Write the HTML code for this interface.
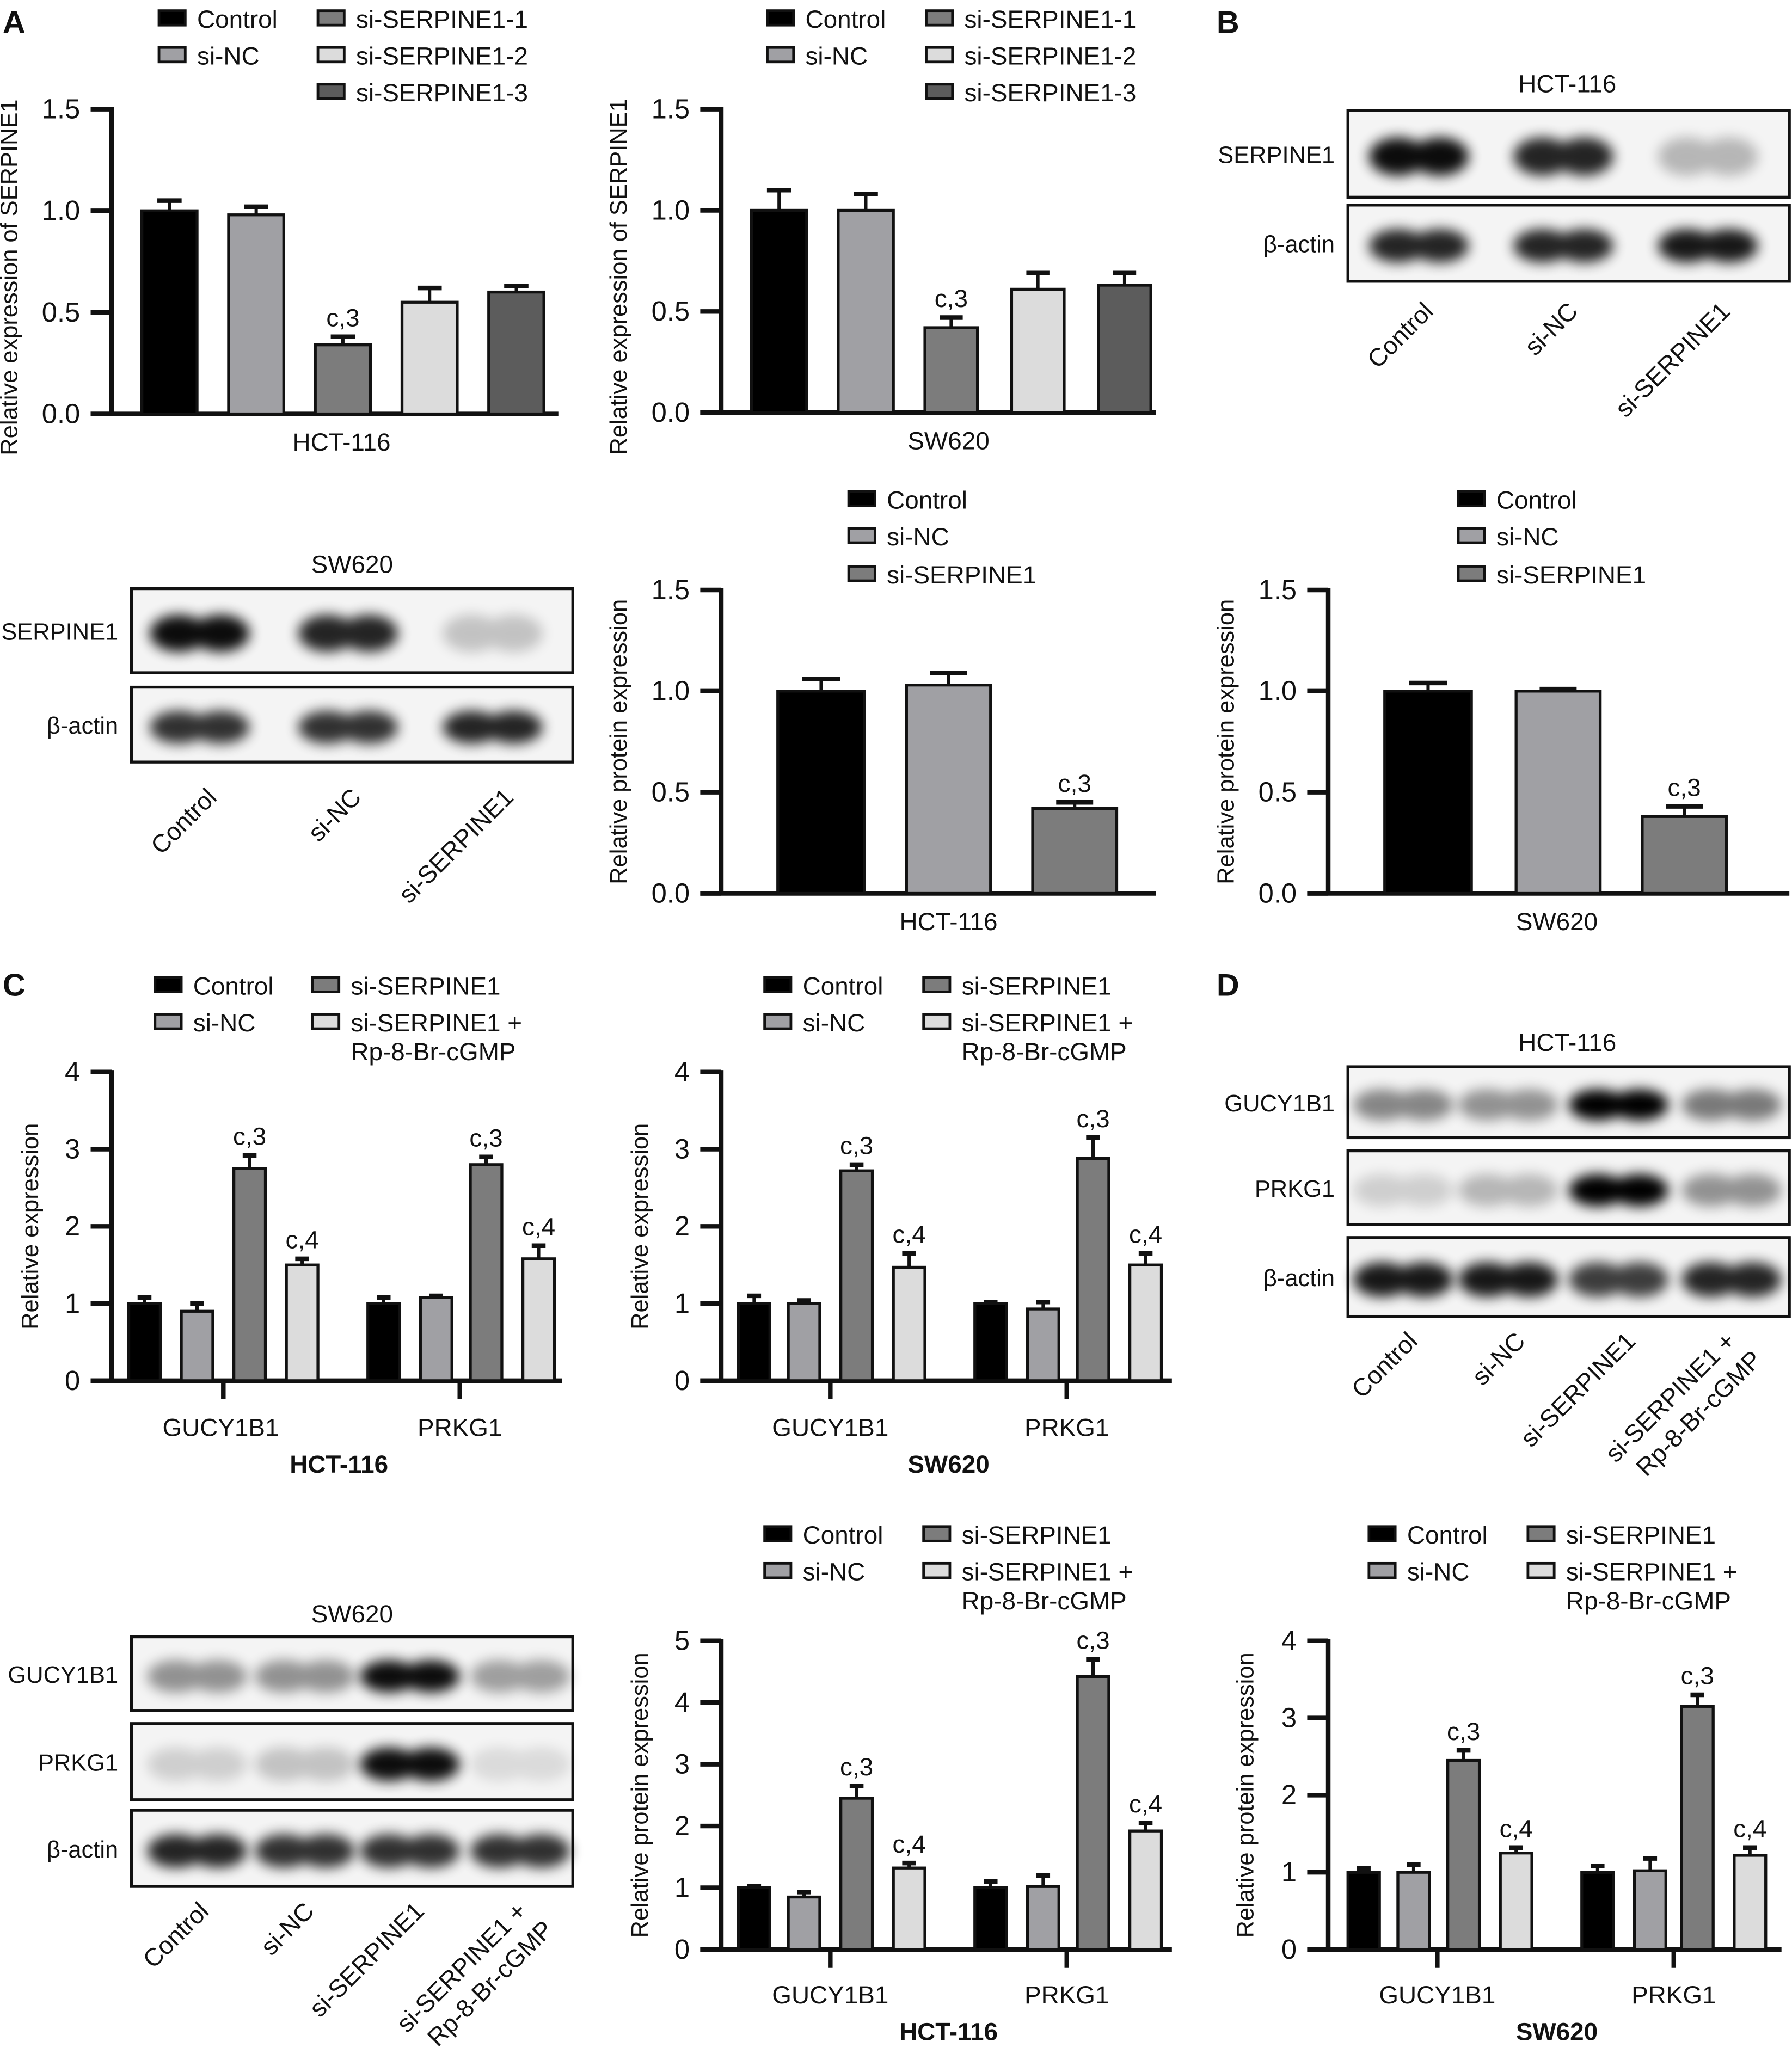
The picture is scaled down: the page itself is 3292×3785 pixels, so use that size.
<!DOCTYPE html>
<html><head><meta charset="utf-8"><style>html,body{margin:0;padding:0;background:#fff}svg{display:block}text{font-family:"Liberation Sans","DejaVu Sans",sans-serif;fill:#111}</style></head>
<body>
<svg id="s" xmlns="http://www.w3.org/2000/svg" width="3292" height="3785" viewBox="0 0 1364 1568">
<defs><filter id="bl" x="-50%" y="-100%" width="200%" height="300%"><feGaussianBlur stdDeviation="5"/></filter></defs>
<g id="g"></g>
</svg>
<script>
const g=document.getElementById('g');let h='';
const C=['#000','#a0a0a4','#7c7c7c','#dcdcdc','#5c5c5c'];
function T(x,y,t,o={}){h+=`<text x="${x}" y="${y}" font-size="${o.fs||19}" text-anchor="${o.a||'start'}" ${o.b?'font-weight="bold"':''} ${o.r!==undefined?`transform="rotate(${o.r} ${x} ${y})"`:''}>${t}</text>`;}
function R(x,y,w,hh,f,sw=2.2){h+=`<rect x="${x}" y="${y}" width="${w}" height="${hh}" fill="${f}" stroke="#111" stroke-width="${sw}"/>`;}
function L(x1,y1,x2,y2,w=3){h+=`<line x1="${x1}" y1="${y1}" x2="${x2}" y2="${y2}" stroke="#111" stroke-width="${w}"/>`;}
function chart(o){let {ax,y0,ytop,max,ticks,xend}=o;ax+=16;const sc=(y0-ytop)/max;
 L(ax,ytop-1.5,ax,y0+1.5,3.5);L(ax-16,y0,xend,y0,3.5);
 ticks.forEach(v=>{const y=y0-v*sc;L(ax-16,y,ax,y,3.5);T(ax-24,y+7,o.dec?v.toFixed(1):v,{a:'end',fs:21});});
 (o.xt||[]).forEach(x=>L(x,y0,x,y0+14,3.5));
 o.bars.forEach(b=>{const yt=y0-b.v*sc,ye=y0-b.e*sc,cx=b.x+b.w/2;
  L(cx,ye,cx,yt,2.5);L(cx-b.w*0.22,ye,cx+b.w*0.22,ye,3.5);
  R(b.x,yt,b.w,y0-yt,C[b.c]);
  if(b.l)T(cx,ye-8,b.l,{a:'middle'});});
 T(o.ylx-4,(y0+ytop)/2+o.yoff,o.yl,{a:'middle',r:-90,fs:18});}
function leg(items){items.forEach(i=>{R(i[0],i[1]-13,20,11,C[i[2]],2);T(i[0]+29,i[1],i[3]);});}
T(2,25,'A',{fs:24,b:1});T(926,25,'B',{fs:24,b:1});T(2,758,'C',{fs:24,b:1});T(926,758,'D',{fs:24,b:1});
leg([[121,21,0,'Control'],[121,49,1,'si-NC'],[242,21,2,'si-SERPINE1-1'],[242,49,3,'si-SERPINE1-2'],[242,77,4,'si-SERPINE1-3']]);
chart({ax:69,y0:315,ytop:83,max:1.5,dec:1,ticks:[0,0.5,1,1.5],xend:425,ylx:17,yoff:12,yl:'Relative expression of SERPINE1',
bars:[{x:108,w:42,v:1,e:1.05,c:0},{x:174,w:42,v:0.98,e:1.02,c:1},{x:240,w:42,v:0.34,e:0.38,c:2,l:'c,3'},{x:306,w:42,v:0.55,e:0.62,c:3},{x:372,w:42,v:0.6,e:0.63,c:4}]});
T(260,343,'HCT-116',{a:'middle'});
leg([[584,21,0,'Control'],[584,49,1,'si-NC'],[705,21,2,'si-SERPINE1-1'],[705,49,3,'si-SERPINE1-2'],[705,77,4,'si-SERPINE1-3']]);
chart({ax:533,y0:314,ytop:83,max:1.5,dec:1,ticks:[0,0.5,1,1.5],xend:880,ylx:481,yoff:12,yl:'Relative expression of SERPINE1',
bars:[{x:572,w:42,v:1,e:1.1,c:0},{x:638,w:42,v:1,e:1.08,c:1},{x:704,w:40,v:0.42,e:0.47,c:2,l:'c,3'},{x:770,w:40,v:0.61,e:0.69,c:3},{x:836,w:40,v:0.63,e:0.69,c:4}]});
T(722,342,'SW620',{a:'middle'});
leg([[646,387,0,'Control'],[646,415,1,'si-NC'],[646,444,2,'si-SERPINE1']]);
chart({ax:533,y0:680,ytop:449,max:1.5,dec:1,ticks:[0,0.5,1,1.5],xend:880,ylx:481,yoff:0,yl:'Relative protein expression',
bars:[{x:592,w:66,v:1,e:1.06,c:0},{x:690,w:64,v:1.03,e:1.09,c:1},{x:786,w:64,v:0.42,e:0.45,c:2,l:'c,3'}]});
T(722,708,'HCT-116',{a:'middle'});
leg([[1110,387,0,'Control'],[1110,415,1,'si-NC'],[1110,444,2,'si-SERPINE1']]);
chart({ax:995,y0:680,ytop:449,max:1.5,dec:1,ticks:[0,0.5,1,1.5],xend:1362,ylx:943,yoff:0,yl:'Relative protein expression',
bars:[{x:1054,w:66,v:1,e:1.04,c:0},{x:1154,w:64,v:1,e:1.01,c:1},{x:1250,w:64,v:0.38,e:0.43,c:2,l:'c,3'}]});
T(1185,708,'SW620',{a:'middle'});
function leg4(x1,x2,y){leg([[x1,y,0,'Control'],[x1,y+28,1,'si-NC'],[x2,y,2,'si-SERPINE1'],[x2,y+28,3,'si-SERPINE1 +']]);T(x2+29,y+50,'Rp-8-Br-cGMP');}
function grp(xs,w,vals,errs,labs){return xs.map((x,i)=>({x:x,w:w,v:vals[i],e:errs[i],c:i%4,l:labs[i]}));}
leg4(118,238,757);
chart({ax:69,y0:1051,ytop:816,max:4,ticks:[0,1,2,3,4],xend:428,xt:[170,350],ylx:33,yoff:0,yl:'Relative expression',
bars:grp([98,138,178,218,280,320,358,398],24,[1,0.9,2.75,1.5,1,1.08,2.8,1.58],[1.08,1.0,2.92,1.58,1.08,1.1,2.9,1.75],['','','c,3','c,4','','','c,3','c,4'])});
T(168,1093,'GUCY1B1',{a:'middle'});T(350,1093,'PRKG1',{a:'middle'});T(258,1121,'HCT-116',{a:'middle',b:1});
leg4(582,703,757);
chart({ax:533,y0:1051,ytop:816,max:4,ticks:[0,1,2,3,4],xend:892,xt:[632,812],ylx:497,yoff:0,yl:'Relative expression',
bars:grp([562,600,640,680,742,782,820,860],24,[1,1,2.72,1.47,1,0.93,2.88,1.5],[1.1,1.04,2.8,1.65,1.02,1.02,3.15,1.65],['','','c,3','c,4','','','c,3','c,4'])});
T(632,1093,'GUCY1B1',{a:'middle'});T(812,1093,'PRKG1',{a:'middle'});T(722,1121,'SW620',{a:'middle',b:1});
leg4(582,703,1175);
chart({ax:533,y0:1484,ytop:1249,max:5,ticks:[0,1,2,3,4,5],xend:892,xt:[632,812],ylx:497,yoff:0,yl:'Relative protein expression',
bars:grp([562,600,640,680,742,782,820,860],24,[1,0.85,2.45,1.32,1,1.02,4.42,1.92],[1.02,0.93,2.65,1.4,1.1,1.2,4.7,2.05],['','','c,3','c,4','','','c,3','c,4'])});
T(632,1525,'GUCY1B1',{a:'middle'});T(812,1525,'PRKG1',{a:'middle'});T(722,1553,'HCT-116',{a:'middle',b:1});
leg4(1042,1163,1175);
chart({ax:995,y0:1484,ytop:1249,max:4,ticks:[0,1,2,3,4],xend:1356,xt:[1094,1274],ylx:958,yoff:0,yl:'Relative protein expression',
bars:grp([1026,1064,1102,1142,1204,1244,1280,1320],24,[1,1,2.45,1.25,1,1.02,3.15,1.22],[1.05,1.1,2.58,1.32,1.08,1.18,3.3,1.32],['','','c,3','c,4','','','c,3','c,4'])});
T(1094,1525,'GUCY1B1',{a:'middle'});T(1274,1525,'PRKG1',{a:'middle'});T(1185,1553,'SW620',{a:'middle',b:1});
function box(x,y,w,hh,lanes,ints,name){h+=`<rect x="${x}" y="${y}" width="${w}" height="${hh}" fill="#f4f4f4" stroke="#111" stroke-width="2.2"/>`;
 lanes.forEach((c,i)=>{const a=ints[i];if(a<=0)return;const cy=y+hh/2+2;
  h+=`<g filter="url(#bl)" opacity="${a}"><ellipse cx="${c-16}" cy="${cy}" rx="22" ry="${hh*0.22}" fill="#000"/><ellipse cx="${c+16}" cy="${cy}" rx="22" ry="${hh*0.22}" fill="#000"/></g>`;});
 T(x-10,y+hh/2+7,name,{a:'end',fs:18});}
function rl(xs,y,labs){xs.forEach((x,i)=>{const L=labs[i];if(Array.isArray(L)){T(x-8,y,L[0],{a:'end',r:-45});T(x+12,y+14,L[1],{a:'end',r:-45});}else T(x,y,L,{a:'end',r:-45});});}
T(1193,70,'HCT-116',{a:'middle'});
box(1026,84,336,66,[1080,1190,1300],[0.95,0.85,0.25],'SERPINE1');
box(1026,156,336,58,[1080,1190,1300],[0.85,0.85,0.9],'β-actin');
rl([1092,1202,1318],238,['Control','si-NC','si-SERPINE1']);
T(268,436,'SW620',{a:'middle'});
box(100,448,336,64,[152,265,375],[0.95,0.85,0.2],'SERPINE1');
box(100,523,336,57,[152,265,375],[0.8,0.8,0.85],'β-actin');
rl([166,276,392],608,['Control','si-NC','si-SERPINE1']);
const dl=[1068,1148,1232,1318];
T(1193,800,'HCT-116',{a:'middle'});
box(1026,812,336,54,dl,[0.45,0.4,1,0.5],'GUCY1B1');
box(1026,876,336,56,dl,[0.15,0.25,1,0.4],'PRKG1');
box(1026,942,336,60,dl,[0.9,0.9,0.75,0.85],'β-actin');
rl([1080,1162,1246,1330],1022,['Control','si-NC','si-SERPINE1',['si-SERPINE1 +','Rp-8-Br-cGMP']]);
const sl=[150,232,312,396];
T(268,1235,'SW620',{a:'middle'});
box(100,1246,336,56,sl,[0.4,0.4,0.95,0.35],'GUCY1B1');
box(100,1312,336,58,sl,[0.15,0.2,0.95,0.1],'PRKG1');
box(100,1378,336,58,sl,[0.85,0.8,0.8,0.8],'β-actin');
rl([160,240,324,410],1456,['Control','si-NC','si-SERPINE1',['si-SERPINE1 +','Rp-8-Br-cGMP']]);
g.innerHTML=h;
</script>
</body></html>
